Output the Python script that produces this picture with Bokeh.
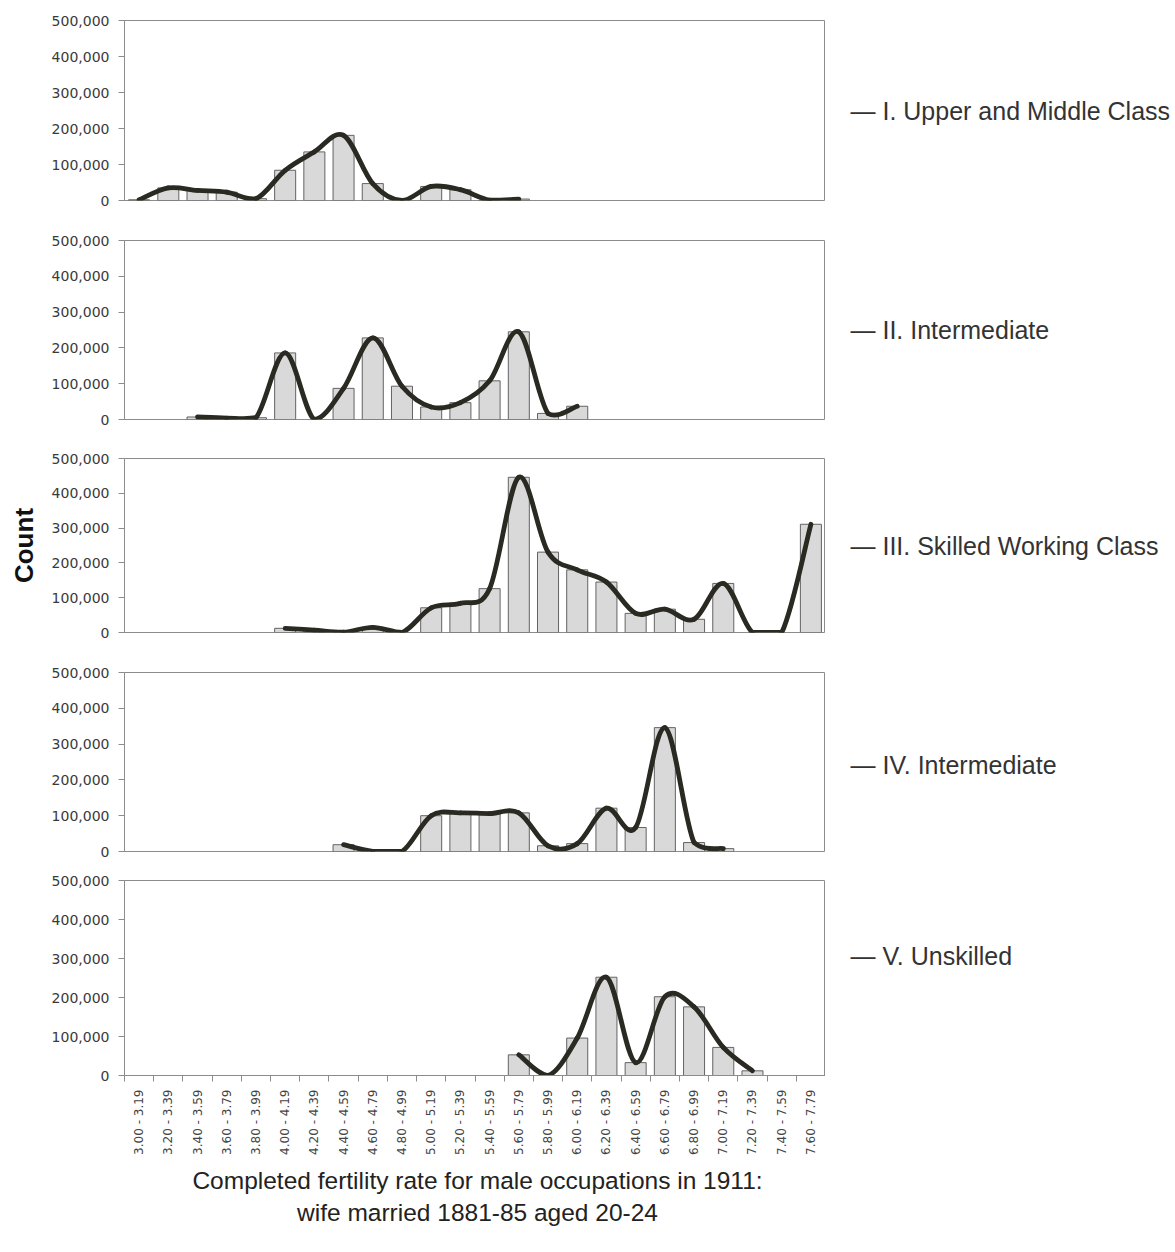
from bokeh.plotting import figure
from bokeh.models import ColumnDataSource, FixedTicker, NumeralTickFormatter, Range1d
from bokeh.core.properties import value
from bokeh.layouts import column, row
from bokeh.embed import file_html
from bokeh.resources import INLINE
import math

categories = ["3.00 - 3.19", "3.20 - 3.39", "3.40 - 3.59", "3.60 - 3.79", "3.80 - 3.99",
              "4.00 - 4.19", "4.20 - 4.39", "4.40 - 4.59", "4.60 - 4.79", "4.80 - 4.99",
              "5.00 - 5.19", "5.20 - 5.39", "5.40 - 5.59", "5.60 - 5.79", "5.80 - 5.99",
              "6.00 - 6.19", "6.20 - 6.39", "6.40 - 6.59", "6.60 - 6.79", "6.80 - 6.99",
              "7.00 - 7.19", "7.20 - 7.39", "7.40 - 7.59", "7.60 - 7.79"]

N = None
class_i = [2000, 35000, 28000, 23000, 5000, 84000, 135000, 181000, 47000, 0,
           39000, 30000, 1000, 4000, N, N, N, N, N, N, N, N, N, N]
class_ii = [N, N, 7000, 4000, 5000, 186000, 0, 87000, 228000, 93000,
            35000, 47000, 108000, 245000, 17000, 37000, N, N, N, N, N, N, N, N]
class_iii = [N, N, N, N, N, 12000, 7000, 1000, 15000, 0,
             71000, 84000, 126000, 446000, 231000, 180000, 145000, 55000, 67000, 38000,
             141000, 0, 0, 311000]
class_iv = [N, N, N, N, N, N, N, 19000, 0, 0,
            100000, 108000, 106000, 108000, 16000, 22000, 121000, 67000, 346000, 25000,
            8000, N, N, N]
class_v = [N, N, N, N, N, N, N, N, N, N,
           N, N, N, 53000, 0, 96000, 252000, 33000, 202000, 176000,
           72000, 12000, N, N]

series_names = ["\u2014 I. Upper and Middle Class", "\u2014 II. Intermediate",
                "\u2014 III. Skilled Working Class", "\u2014 IV. Intermediate",
                "\u2014 V. Unskilled"]
y_ticks = [0, 100000, 200000, 300000, 400000, 500000]
x_title_1 = "Completed fertility rate for male occupations in 1911:"
x_title_2 = "wife married 1881-85 aged 20-24"
y_title = "Count"

all_series = [class_i, class_ii, class_iii, class_iv, class_v]

# panel geometry (frame heights and borders, in px)
frame_h = [180, 179, 174, 179, 197]
b_top = [20, 20, 20, 20, 15]
b_bot = [20, 19, 20, 14, 80]

FRAME_W = 701
LEFT = 124
RIGHT_W = 345
COUNT_W = 46
TITLE_H = 83

GRID = "#8c8c8c"
TXT = "#3a3a3a"


def bezier_source(vals):
    pts = [(i, v) for i, v in enumerate(vals) if v is not None]
    n = len(pts)
    d = dict(x0=[], y0=[], x1=[], y1=[], cx0=[], cy0=[], cx1=[], cy1=[])
    for k in range(n - 1):
        p0 = pts[max(k - 1, 0)]
        p1 = pts[k]
        p2 = pts[k + 1]
        p3 = pts[min(k + 2, n - 1)]
        c0x = p1[0] + (p2[0] - p0[0]) / 6.0
        c0y = max(0.0, p1[1] + (p2[1] - p0[1]) / 6.0)
        c1x = p2[0] - (p3[0] - p1[0]) / 6.0
        c1y = max(0.0, p2[1] - (p3[1] - p1[1]) / 6.0)
        d["x0"].append(p1[0]); d["y0"].append(p1[1])
        d["x1"].append(p2[0]); d["y1"].append(p2[1])
        d["cx0"].append(c0x); d["cy0"].append(c0y)
        d["cx1"].append(c1x); d["cy1"].append(c1y)
    return ColumnDataSource(d)


def text_fig(w, h):
    f = figure(width=w, height=h, output_backend="svg", toolbar_location=None,
               x_range=Range1d(0, w), y_range=Range1d(0, h),
               min_border=0, min_border_left=0, min_border_right=0,
               min_border_top=0, min_border_bottom=0,
               background_fill_color="white", border_fill_color="white")
    f.outline_line_color = None
    f.axis.visible = False
    f.grid.visible = False
    return f


rows = []
for k, vals in enumerate(all_series):
    last = (k == len(all_series) - 1)
    h = frame_h[k] + b_top[k] + b_bot[k]
    left = LEFT - COUNT_W if k == 2 else LEFT
    p = figure(width=FRAME_W + left, height=h, output_backend="svg",
               toolbar_location=None, x_range=Range1d(-0.5, len(categories) - 0.5),
               y_range=Range1d(0, 500000), min_border_left=left, min_border_right=0,
               min_border_top=b_top[k], min_border_bottom=b_bot[k],
               background_fill_color="white", border_fill_color="white")
    p.outline_line_color = GRID
    p.outline_line_width = 1
    p.grid.visible = False

    bx = [i for i, v in enumerate(vals) if v is not None and v > 0]
    bt = [vals[i] for i in bx]
    p.vbar(x=bx, top=bt, bottom=0, width=0.72, fill_color="#d9d9d9",
           line_color="#636363", line_width=1)

    p.bezier(x0="x0", y0="y0", x1="x1", y1="y1", cx0="cx0", cy0="cy0",
             cx1="cx1", cy1="cy1", source=bezier_source(vals),
             line_color="#2a2a22", line_width=4.8, line_cap="round")

    ya = p.yaxis[0]
    ya.ticker = FixedTicker(ticks=y_ticks)
    ya.formatter = NumeralTickFormatter(format="0,0")
    ya.axis_line_color = GRID
    ya.major_tick_line_color = GRID
    ya.major_tick_out = 6
    ya.major_tick_in = 0
    ya.minor_tick_line_color = None
    ya.major_label_standoff = 9
    ya.major_label_text_font = "DejaVu Sans"
    ya.major_label_text_font_size = "14px"
    ya.major_label_text_color = TXT

    xa = p.xaxis[0]
    if last:
        xa.ticker = FixedTicker(ticks=list(range(len(categories))),
                                minor_ticks=[i - 0.5 for i in range(len(categories) + 1)])
        xa.major_label_overrides = {i: c for i, c in enumerate(categories)}
        xa.major_label_orientation = math.pi / 2
        xa.major_tick_line_color = None
        xa.major_tick_out = 0
        xa.major_tick_in = 0
        xa.minor_tick_line_color = GRID
        xa.minor_tick_out = 6
        xa.minor_tick_in = 0
        xa.axis_line_color = GRID
        xa.major_label_standoff = 8
        xa.major_label_text_font = "DejaVu Sans"
        xa.major_label_text_font_size = "12px"
        xa.major_label_text_color = "#444444"
    else:
        xa.visible = False

    lab = text_fig(RIGHT_W, h)
    lab.text(x=[25], y=[b_bot[k] + frame_h[k] / 2.0], text=[series_names[k]],
             text_align="left", text_baseline="middle",
             text_font=value("Liberation Sans"), text_font_size="25px",
             text_color="#333333")

    items = [p, lab]
    if k == 2:
        cf = text_fig(COUNT_W, h)
        cf.text(x=[23], y=[b_bot[k] + frame_h[k] / 2.0], text=[y_title],
                angle=math.pi / 2, text_align="center", text_baseline="middle",
                text_font=value("Liberation Sans"), text_font_style="bold",
                text_font_size="26px", text_color="#111111")
        items = [cf, p, lab]
    rows.append(row(*items, spacing=0))

tf = text_fig(LEFT + FRAME_W + RIGHT_W, TITLE_H)
tf.text(x=[477, 477], y=[TITLE_H - 23, TITLE_H - 55], text=[x_title_1, x_title_2],
        text_align="center", text_baseline="middle",
        text_font=value("Liberation Sans"), text_font_size="24.5px",
        text_color="#222222")
rows.append(tf)

layout = column(*rows, spacing=0)
open("out.html", "w").write(file_html(layout, INLINE))
